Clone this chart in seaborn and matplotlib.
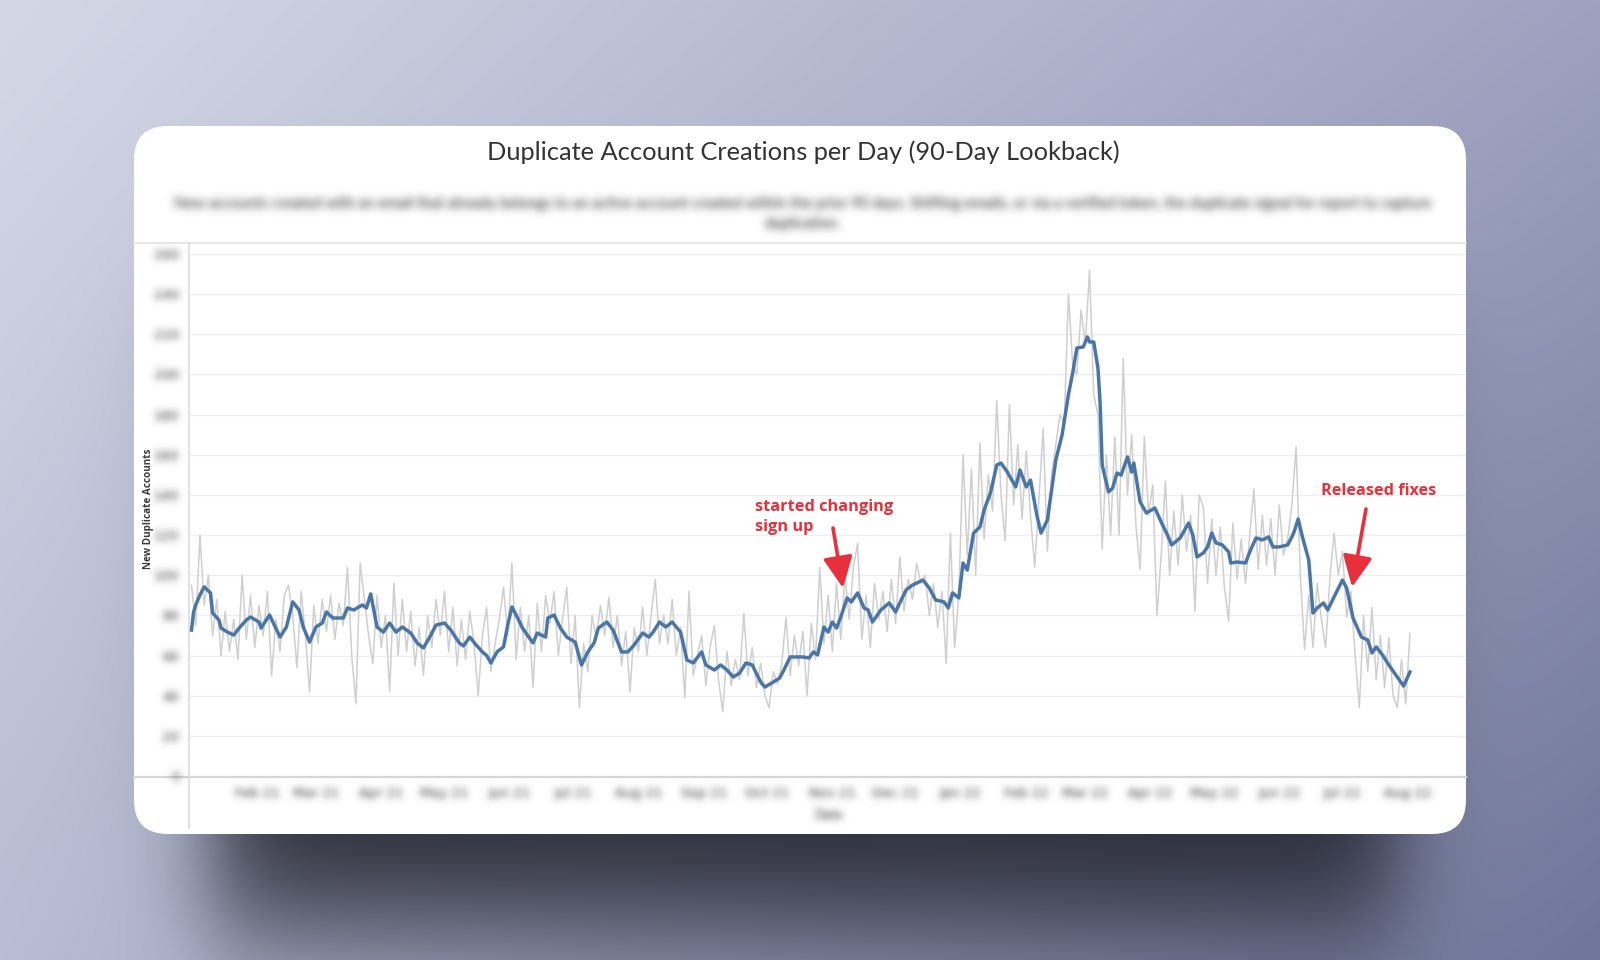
import numpy as np
import pandas as pd
import matplotlib
matplotlib.use("Agg")
import matplotlib.pyplot as plt
import seaborn as sns
from matplotlib.patches import FancyBboxPatch, FancyArrowPatch
from matplotlib.lines import Line2D

# ---------------- data ----------------
start_date = "2021-01-01"
tick_months = pd.date_range("2021-02-01", "2022-08-01", freq="MS")
y_ticks = list(range(0, 261, 20))

# raw daily count (sampled every 2 days)
grey_vals = [
    95, 75, 120, 85, 100, 70, 88, 60, 82, 62,
    78, 58, 100, 68, 90, 64, 85, 70, 92, 50,
    78, 62, 90, 95, 80, 54, 92, 70, 42, 85,
    66, 88, 72, 90, 68, 86, 75, 104, 60, 36,
    106, 88, 70, 56, 90, 64, 80, 42, 96, 60,
    88, 62, 82, 55, 74, 50, 80, 64, 88, 70,
    92, 62, 84, 55, 78, 58, 82, 66, 40, 70,
    84, 52, 66, 78, 94, 70, 106, 58, 84, 62,
    80, 44, 86, 62, 90, 76, 92, 60, 78, 94,
    56, 80, 34, 66, 52, 80, 68, 85, 70, 89,
    64, 80, 55, 72, 42, 74, 62, 84, 60, 80,
    98, 66, 80, 66, 88, 60, 74, 39, 92, 50,
    60, 70, 45, 64, 75, 48, 32, 62, 45, 58,
    48, 81, 50, 64, 44, 56, 40, 34, 52, 46,
    56, 79, 50, 70, 55, 72, 40, 76, 58, 104,
    66, 90, 62, 96, 68, 100, 78, 104, 116, 68,
    90, 64, 96, 78, 92, 72, 98, 76, 109, 82,
    98, 88, 106, 96, 100, 80, 96, 74, 92, 56,
    121, 64, 90, 160, 110, 153, 100, 166, 118, 150,
    132, 187, 140, 117, 185, 135, 165, 128, 162, 130,
    104, 138, 173, 112, 150, 165, 180, 175, 240, 205,
    200, 232, 215, 252, 190, 180, 113, 160, 120, 169,
    120, 208, 140, 170, 125, 103, 169, 130, 145, 80,
    110, 147, 100, 132, 105, 140, 112, 130, 82, 140,
    134, 96, 128, 100, 124, 94, 77, 126, 98, 118,
    96, 120, 143, 103, 130, 105, 128, 100, 135, 110,
    118, 135, 164, 100, 63, 90, 64, 96, 78, 64,
    98, 121, 100, 112, 79, 92, 60, 34, 80, 52,
    84, 48, 70, 44, 69, 40, 34, 58, 36, 71,
]

# smoothed line: day offset from start, value
blue_day = [0, 1, 2, 4, 6, 9, 10, 13, 14, 17, 20, 23, 26, 28, 32, 33, 37, 42, 45, 48,
            51, 53, 56, 59, 62, 64, 67, 72, 74, 77, 81, 83, 85, 88, 91, 94, 97, 100, 104, 107,
            110, 113, 116, 120, 123, 127, 129, 132, 135, 138, 140, 142, 145, 148, 150, 152, 154, 157, 160, 162,
            164, 168, 169, 172, 175, 178, 182, 185, 188, 191, 193, 197, 200, 204, 207, 210, 214, 217, 219, 222,
            225, 228, 232, 235, 238, 242, 244, 248, 251, 254, 257, 260, 263, 266, 270, 272, 276, 279, 281, 284,
            290, 293, 295, 297, 300, 302, 304, 306, 308, 311, 313, 316, 319, 321, 323, 327, 331, 334, 336, 339,
            342, 347, 350, 353, 357, 359, 361, 364, 366, 368, 371, 374, 376, 379, 382, 384, 387, 391, 393, 396,
            398, 401, 403, 406, 410, 413, 416, 418, 420, 423, 425, 426, 428, 430, 431, 432, 435, 437, 439, 441,
            444, 446, 447, 450, 453, 457, 460, 463, 465, 469, 473, 475, 477, 480, 482, 484, 486, 489, 492, 493,
            496, 500, 502, 505, 508, 511, 513, 516, 520, 522, 523, 525, 527, 530, 532, 534, 537, 539, 542, 546,
            548, 551, 555, 558, 560, 562, 565, 568, 572, 575, 578]
blue_val = [72.7, 81.8, 85.2, 90.2, 94.2, 91.2, 81.2, 77.7, 73.7, 71.7, 70.2, 74.2, 77.7, 79.2, 76.7, 73.7, 80.2, 69.2, 74.2, 86.7,
            82.7, 74.2, 66.7, 74.2, 76.2, 81.7, 78.7, 78.7, 83.7, 82.7, 85.2, 83.7, 90.7, 74.2, 71.7, 76.2, 71.7, 74.2, 71.2, 66.3,
            63.8, 69.2, 75.2, 76.2, 72.7, 66.3, 64.8, 69.2, 65.3, 61.8, 60.0, 56.3, 61.9, 64.3, 75.2, 84.2, 80.2, 73.7, 69.2, 66.3,
            71.2, 69.2, 78.7, 80.2, 73.7, 69.2, 66.7, 55.3, 61.8, 66.3, 73.7, 76.7, 72.7, 61.8, 61.8, 65.3, 71.2, 69.2, 71.7, 76.7,
            74.2, 76.7, 71.7, 57.8, 56.3, 61.8, 55.3, 52.8, 55.3, 52.8, 49.3, 51.3, 56.3, 55.3, 46.8, 44.3, 46.8, 48.8, 52.8, 59.3,
            59.3, 58.8, 61.8, 60.3, 74.2, 71.7, 76.7, 73.7, 79.2, 88.7, 86.7, 91.2, 83.7, 82.7, 76.7, 82.7, 86.2, 81.7, 86.2, 92.7,
            95.1, 97.6, 93.6, 87.7, 86.7, 83.7, 91.2, 88.7, 106.1, 102.6, 121.0, 124.0, 132.5, 141.0, 154.9, 155.9, 151.4, 144.0, 152.4, 144.0,
            147.4, 130.0, 121.0, 127.5, 157.4, 170.0, 190.0, 200.7, 213.2, 213.7, 218.7, 216.2, 216.2, 203.2, 186.3, 154.9, 141.5, 143.5, 150.9, 149.9,
            158.9, 151.4, 155.9, 136.5, 131.0, 133.5, 126.5, 120.0, 115.1, 118.6, 126.0, 120.0, 109.1, 111.1, 114.1, 121.0, 116.1, 115.1, 111.6, 106.1,
            106.6, 106.1, 111.6, 118.6, 117.6, 119.1, 114.1, 114.1, 115.1, 119.1, 121.5, 128.0, 119.1, 107.6, 81.2, 83.7, 86.2, 82.7, 89.2, 97.6,
            93.6, 78.7, 69.2, 67.7, 61.3, 64.3, 60.3, 55.3, 49.3, 44.8, 51.8]

title = "Duplicate Account Creations per Day (90-Day Lookback)"
subtitle_1 = ("New accounts created with an email that already belongs to an active account created within "
              "the prior 90 days. Shifting emails, or via a verified token, the duplicate signal for report to capture")
subtitle_2 = "duplication."
y_label = "New Duplicate Accounts"
x_label = "Date"
note_1 = "started changing\nsign up"
note_2 = "Released fixes"

# ---------------- helpers ----------------
W, H = 1600, 960


def _blur_axis(a, sigma, axis):
    r = int(3 * sigma + 0.5)
    xs = np.arange(-r, r + 1)
    k = np.exp(-0.5 * (xs / sigma) ** 2)
    k /= k.sum()
    n = a.shape[axis]
    pad = [(r, r) if i == axis else (0, 0) for i in range(a.ndim)]
    ap = np.pad(a, pad)
    out = np.zeros_like(a)
    for i, w in enumerate(k):
        sl = [slice(None)] * a.ndim
        sl[axis] = slice(i, i + n)
        out += w * ap[tuple(sl)]
    return out


def make_blur(sigma, gain=1.0):
    def filt(im, dpi):
        p = int(3 * sigma) + 3
        im = np.pad(im, ((p, p), (p, p), (0, 0)))
        a = im[..., 3:4]
        rgb = im[..., :3] * a
        a2 = _blur_axis(_blur_axis(a, sigma, 0), sigma, 1)
        rgb2 = _blur_axis(_blur_axis(rgb, sigma, 0), sigma, 1)
        rgb_out = rgb2 / np.maximum(a2, 1e-6)
        out = np.concatenate([np.clip(rgb_out, 0, 1), np.clip(a2 * gain, 0, 1)], axis=-1)
        return out, -p, -p
    return filt


def sig(z):
    return 1.0 / (1.0 + np.exp(-z))


# ---------------- figure ----------------
fig = plt.figure(figsize=(16, 9.6), dpi=100)

# background with gradient + shadow
bg = fig.add_axes([0, 0, 1, 1], zorder=0)
bg.set_xlim(0, W)
bg.set_ylim(H, 0)
bg.axis("off")
yy, xx = np.mgrid[0:H, 0:W].astype(float)
u, v = xx / W, yy / H
tl = np.array([212, 216, 230]); tr = np.array([158, 162, 192])
bl = np.array([184, 188, 212]); br = np.array([112, 118, 154])
img = ((1 - u)[..., None] * (1 - v)[..., None] * tl + u[..., None] * (1 - v)[..., None] * tr
       + (1 - u)[..., None] * v[..., None] * bl + u[..., None] * v[..., None] * br)
sx = sig((xx - 212) / 26.0) * sig((1398 - xx) / 26.0)
sy = sig((yy - 300) / 30.0) * sig((925 - yy) / 40.0)
alpha = (0.95 * sx * sy)[..., None]
shadow_col = np.array([36, 38, 48])
img = img * (1 - alpha) + shadow_col * alpha
bg.imshow(img.astype(np.uint8), extent=[0, W, H, 0], aspect="auto", interpolation="bilinear")

card = FancyBboxPatch((134, 126), 1466 - 134, 834 - 126,
                      boxstyle="round,pad=0,rounding_size=34",
                      facecolor="white", edgecolor="none", zorder=2)
bg.add_patch(card)
# frame lines of the worksheet
bg.add_line(Line2D([134, 1466], [243, 243], color="#e4e4e4", lw=1.2, zorder=3))
bg.add_line(Line2D([134, 1466], [776.5, 776.5], color="#d6d6d6", lw=1.6, zorder=3))
bg.add_line(Line2D([188.5, 188.5], [243, 828], color="#dcdcdc", lw=1.2, zorder=3))

# ---------------- main plot ----------------
ax = fig.add_axes([189 / W, 1 - 776 / H, (1466 - 189) / W, (776 - 243) / H], zorder=1)
ax.set_facecolor("none")

start = pd.Timestamp(start_date)
grey_df = pd.DataFrame({"date": pd.date_range(start, periods=len(grey_vals), freq="2D"),
                        "value": grey_vals})
blue_df = pd.DataFrame({"date": start + pd.to_timedelta(blue_day, unit="D"),
                        "value": blue_val})

sns.lineplot(data=grey_df, x="date", y="value", ax=ax, color="#cfcfcf", linewidth=1.1,
             estimator=None, zorder=2)
sns.lineplot(data=blue_df, x="date", y="value", ax=ax, color="#4a75a8", linewidth=2.5,
             estimator=None, zorder=3)

ax.set_ylim(0, 265.5)
ax.set_xlim(start - pd.Timedelta(days=1.2), start + pd.Timedelta(days=604.6))
ax.set_yticks(y_ticks)
ax.set_yticklabels([str(t) for t in y_ticks])
ax.set_xticks(tick_months)
ax.set_xticklabels([d.strftime("%b %y") for d in tick_months])
ax.grid(axis="y", color="#efefef", linewidth=1.0)
ax.grid(axis="x", visible=False)
ax.set_axisbelow(True)
for s in ax.spines.values():
    s.set_visible(False)
ax.tick_params(axis="both", length=0, labelsize=9.5, labelcolor="#7a7a7a")
ax.tick_params(axis="y", pad=7)
ax.tick_params(axis="x", pad=8)
ax.set_xlabel("")
ax.set_ylabel("")

blur_small = make_blur(3.6, gain=1.6)
for t in ax.yaxis.get_major_ticks() + ax.xaxis.get_major_ticks():
    t.label1.set_agg_filter(blur_small)

# ---------------- overlay texts ----------------
ov = fig.add_axes([0, 0, 1, 1], zorder=5)
ov.set_xlim(0, W)
ov.set_ylim(H, 0)
ov.axis("off")
ov.set_facecolor("none")

renderer = fig.canvas.get_renderer()


def fit(t, target):
    w = t.get_window_extent(renderer).width
    t.set_fontsize(t.get_fontsize() * target / w)


t_title = ov.text(803, 152, title, ha="center", va="center", fontsize=17,
                  family=["Lato", "DejaVu Sans"], color="#333333")
fit(t_title, 630)

s1 = ov.text(803, 204, subtitle_1, ha="center", va="center", fontsize=10,
             family=["Lato", "DejaVu Sans"], color="#666666")
fit(s1, 1261)
s2 = ov.text(803, 224, subtitle_2, ha="center", va="center", fontsize=s1.get_fontsize(),
             family=["Lato", "DejaVu Sans"], color="#666666")
blur_sub = make_blur(4.2, gain=1.5)
s1.set_agg_filter(blur_sub)
s2.set_agg_filter(blur_sub)

yl = ov.text(149, 509, y_label, ha="center", va="center", rotation=90, fontsize=8,
             family=["Open Sans", "DejaVu Sans"], fontweight="bold", color="#3a3a3a")
w = yl.get_window_extent(renderer).height
yl.set_fontsize(yl.get_fontsize() * 120 / w)

xl = ov.text(829, 815, x_label, ha="center", va="center", fontsize=9.5,
             family=["Lato", "DejaVu Sans"], color="#7a7a7a")
xl.set_agg_filter(blur_small)

red = "#e8303c"
probe = ov.text(0, 0, note_1.split("\n")[0], fontsize=12, family=["Open Sans", "DejaVu Sans"],
                fontweight="bold")
w1 = probe.get_window_extent(renderer).width
probe.remove()
n1 = ov.text(755, 517, note_1, ha="left", va="center", fontsize=12 * 138 / w1,
             family=["Open Sans", "DejaVu Sans"], fontweight="bold", color=red,
             linespacing=1.3)

n2 = ov.text(1321, 491, note_2, ha="left", va="center", fontsize=12,
             family=["Open Sans", "DejaVu Sans"], fontweight="bold", color=red)
fit(n2, 115)

for (x0, y0), (x1, y1) in [((833, 528), (843, 588)), ((1366, 509), (1352, 587))]:
    arr = FancyArrowPatch((x0, y0), (x1, y1), arrowstyle="-|>,head_length=0.95,head_width=0.45",
                          mutation_scale=20, lw=2.6, color=red, shrinkA=0, shrinkB=0)
    ov.add_patch(arr)

fig.savefig("out.png", dpi=100)
